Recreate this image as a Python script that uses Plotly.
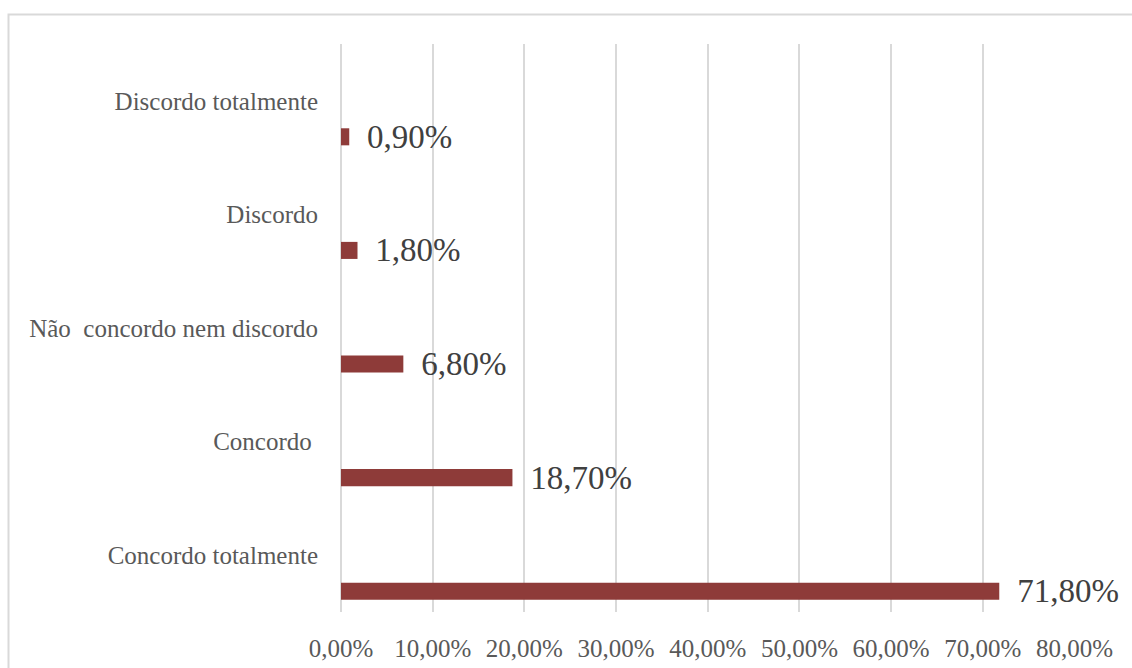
import plotly.graph_objects as go

categories = ["Concordo totalmente", "Concordo\u00a0", "Não\u00a0 concordo nem discordo", "Discordo", "Discordo totalmente"]
values = [0.718, 0.187, 0.068, 0.018, 0.009]
tick_vals = [0, 0.1, 0.2, 0.3, 0.4, 0.5, 0.6, 0.7, 0.8]

W, H = 1132, 668
L, R, T, B = 341, 57, 44, 56
pw, ph = W - L - R, H - T - B

fig = go.Figure()
fig.add_trace(go.Bar(
    y=categories, x=values, orientation="h",
    marker=dict(color="#8E3B39", line=dict(width=0)),
    width=0.15, offset=-0.392,
    texttemplate="\u00a0\u2009%{x:.2%}", textposition="outside",
    textfont=dict(family="Liberation Serif", size=33, color="#404040"),
    constraintext="none", cliponaxis=False,
    hoverinfo="skip",
))

fig.update_layout(
    width=W, height=H,
    margin=dict(l=L, r=R, t=T, b=B, pad=0, autoexpand=False),
    paper_bgcolor="white", plot_bgcolor="white",
    separators=",.",
    showlegend=False,
    font=dict(family="Liberation Serif", size=25, color="#595959"),
    xaxis=dict(range=[0, 0.8006], tickvals=tick_vals, tickformat=".2%",
               showgrid=True, gridcolor="#D9D9D9", gridwidth=2,
               zeroline=True, zerolinecolor="#D9D9D9", zerolinewidth=2,
               showline=False, ticks="", ticklabelstandoff=19,
               automargin=False, fixedrange=True),
    yaxis=dict(range=[-0.5, 4.5], showgrid=False, zeroline=False, showline=False,
               ticks="", ticklabelstandoff=22, automargin=False, fixedrange=True),
    shapes=[dict(type="rect", xref="paper", yref="paper",
                 x0=(8.5 - L) / pw, x1=(1200 - L) / pw,
                 y0=-0.3, y1=1 + (T - 14.5) / ph,
                 line=dict(color="#D9D9D9", width=2), layer="below")],
)

fig.write_html("out.html")
